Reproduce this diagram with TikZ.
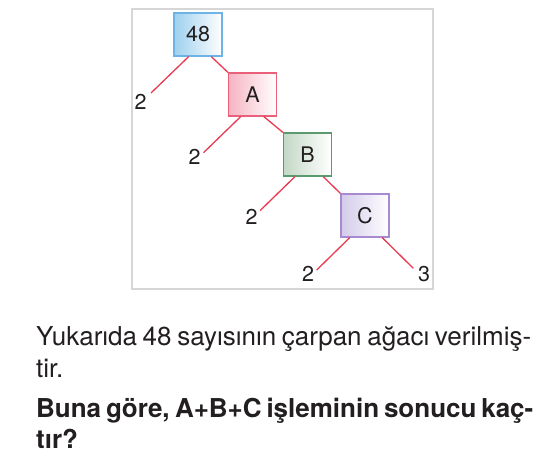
\documentclass[tikz,border=0pt]{standalone}
\usepackage{fontspec}
\setmainfont{TeX Gyre Heros}
\usetikzlibrary{calc}
\definecolor{edgered}{HTML}{E83A50}
\definecolor{txt}{HTML}{231F20}
\definecolor{framegray}{HTML}{D6D6D6}
\definecolor{blueB}{HTML}{6DB3E6}
\definecolor{blueF}{HTML}{9ED0EE}
\definecolor{redB}{HTML}{E8607A}
\definecolor{redF}{HTML}{F6B4C2}
\definecolor{greenB}{HTML}{5A9A6E}
\definecolor{greenF}{HTML}{C3D8C6}
\definecolor{purpB}{HTML}{A88AD0}
\definecolor{purpF}{HTML}{D3CBEA}
\begin{document}
\begin{tikzpicture}[x=1pt,y=-1pt,
  box/.style 2 args={draw=#1, left color=#2, right color=white, line width=1.2pt,
    minimum width=48pt, minimum height=43pt, inner sep=0pt,
    font=\fontsize{21.5}{25}\selectfont, text=txt},
  conn/.style={draw=edgered, line width=1.3pt},
  num/.style={font=\fontsize{21.5}{25}\selectfont, inner sep=0pt, text=txt},
  para/.style={anchor=base west, inner sep=0pt, text=txt, font=\fontsize{26}{30}\selectfont}]
\useasboundingbox (0,0) rectangle (547,461);
\fill[white] (0,0) rectangle (547,461);
\draw[framegray, line width=1.2pt] (132,9) rectangle (433,289);

\node[box={blueB}{blueF}] (n48) at (198,34.5) {48};
\node[box={redB}{redF}] (nA) at (252.5,94.5) {A};
\node[box={greenB}{greenF}] (nB) at (307.5,154.5) {B};
\node[box={purpB}{purpF}] (nC) at (365,215.5) {C};

\node[num] (l1) at (140.5,102) {2};
\node[num] (l2) at (194.5,157) {2};
\node[num] (l3) at (251.5,216.5) {2};
\node[num] (l4) at (308,274) {2};
\node[num] (l5) at (424,274) {3};

\coordinate (e1) at (151,93);
\coordinate (e2) at (203.5,152.7);
\coordinate (e3) at (260,210.7);
\coordinate (e4) at (316.7,270);
\coordinate (e5) at (413.3,268.3);

\draw[conn] ($(n48.south west)!0.31!(n48.south east)$) -- (e1);
\draw[conn] ($(n48.south west)!0.77!(n48.south east)$) -- (nA.north west);
\draw[conn] ($(nA.south west)!0.26!(nA.south east)$) -- (e2);
\draw[conn] ($(nA.south west)!0.73!(nA.south east)$) -- (nB.north west);
\draw[conn] ($(nB.south west)!0.245!(nB.south east)$) -- (e3);
\draw[conn] ($(nB.south west)!0.82!(nB.south east)$) -- (nC.north west);
\draw[conn] ($(nC.south west)!0.19!(nC.south east)$) -- (e4);
\draw[conn] ($(nC.south west)!0.85!(nC.south east)$) -- (e5);

\node[para] (t1) at (36,345) {\makebox[495pt][s]{Yukarıda 48 sayısının çarpan ağacı verilmiş-}};
\node[para] (t2) at (36,377) {tir.};
\node[para, font=\fontsize{26}{30}\selectfont\bfseries] (t3) at (36,417) {\makebox[495pt][s]{Buna göre, A+B+C işleminin sonucu kaç-}};
\node[para, font=\fontsize{26}{30}\selectfont\bfseries] (t4) at (36,448) {tır?};
\end{tikzpicture}
\end{document}
